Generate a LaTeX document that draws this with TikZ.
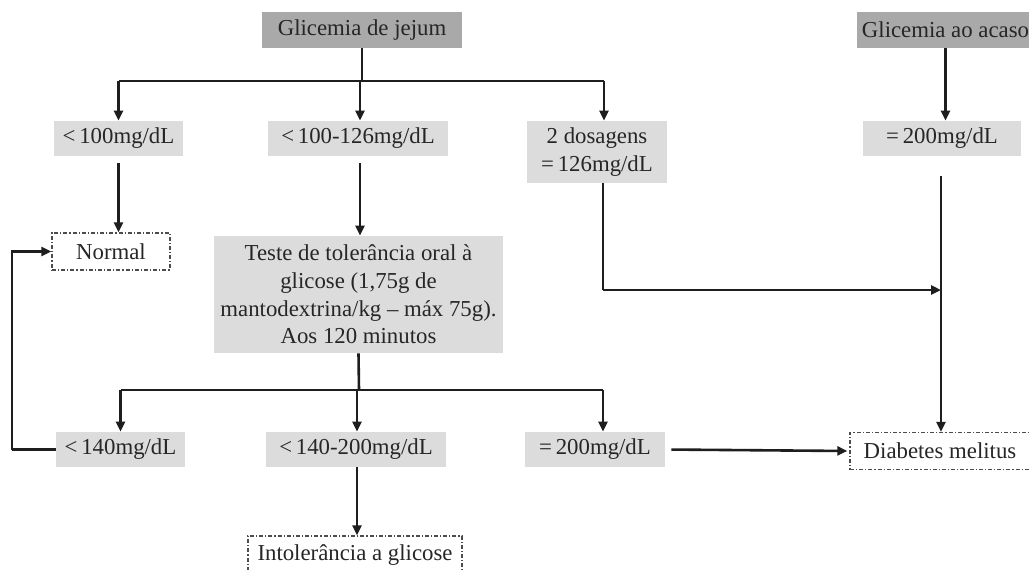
\documentclass[tikz,border=0pt]{standalone}
\usepackage{fontspec}
\setmainfont{Liberation Serif}
\usetikzlibrary{arrows.meta}
\definecolor{txt}{HTML}{262626}
\definecolor{darkfill}{HTML}{A9A9A9}
\definecolor{lightfill}{HTML}{DCDCDC}
\definecolor{linec}{HTML}{1E1E1E}
\tikzset{
  base/.style={font=\fontsize{11.4pt}{13.8pt}\selectfont, text=txt, inner sep=0pt, align=center},
  darkbox/.style={base, fill=darkfill, minimum height=18pt},
  lightbox/.style={base, fill=lightfill, minimum height=17.5pt},
  endbox/.style={base, draw=gray!60!black, line width=0.7pt,
    dash pattern=on 2pt off 1pt on 0.6pt off 1pt, minimum height=18.5pt},
  conn/.style={draw=linec, line width=1.3pt},
  arr/.style={conn, -{Triangle[width=4.5pt,length=5pt]}}
}
\begin{document}
\begin{tikzpicture}[x=0.5pt,y=-0.5pt]
\useasboundingbox[fill=white] (0,0) rectangle (1029,569);
% top boxes
\node[darkbox, minimum width=100pt] (gj) at (362,30) {Glicemia de jejum};
\node[darkbox, minimum width=89pt] (ga) at (945.5,30) {Glicemia ao acaso};
% first level
\node[lightbox, minimum width=64.5pt] (b1) at (118.5,138.5) {<\,100mg/dL};
\node[lightbox, minimum width=90pt] (b2) at (358,138.5) {<\,100-126mg/dL};
\node[lightbox, minimum width=70pt, minimum height=31pt] (b3) at (597,152) {2 dosagens\\=\,126mg/dL};
\node[lightbox, minimum width=79pt] (b4) at (942,138.5) {=\,200mg/dL};
% normal and test
\node[endbox, minimum width=59pt] (nor) at (111,251.5) {Normal};
\node[lightbox, minimum width=144.5pt, minimum height=58.5pt] (teste) at (358.5,294.5)
  {Teste de tolerância oral à\\glicose (1,75g de\\mantodextrina/kg – máx 75g).\\Aos 120 minutos};
% second level
\node[lightbox, minimum width=64.5pt] (c1) at (120.5,449.5) {<\,140mg/dL};
\node[lightbox, minimum width=90pt] (c2) at (356,449.5) {<\,140-200mg/dL};
\node[lightbox, minimum width=70pt] (c3) at (595,449.5) {=\,200mg/dL};
\node[endbox, minimum width=90pt] (dm) at (940,451) {Diabetes melitus};
\node[endbox, minimum width=107pt, minimum height=19pt] (intol) at (355,555) {Intolerância a glicose};
% junction coordinates
\coordinate (j1) at (362,81);
\coordinate (j1l) at (118.5,81);
\coordinate (j1m) at (360,81);
\coordinate (j1r) at (604,81);
\coordinate (j2) at (359,390);
\coordinate (j2l) at (120.5,390);
\coordinate (j2m) at (357,390);
\coordinate (j2r) at (603,390);
\coordinate (loopb) at (12,449.5);
\coordinate (loopt) at (12,251.5);
\coordinate (b3d) at (603,290);
\coordinate (dmj) at (941,290);
% connectors
\draw[conn] (gj.south) -- (j1);
\draw[conn] (j1l) -- (j1r);
\draw[arr] (j1l) -- (b1.north);
\draw[arr] (j1m) -- (j1m |- b2.north);
\draw[arr] (j1r) -- (j1r |- b3.north);
\draw[arr] (ga.south) -- (ga.south |- b4.north);
\draw[arr, shorten <=3.5pt] (b1.south) -- (b1.south |- nor.north);
\draw[arr, shorten <=3.5pt] (j1m |- b2.south) -- (j1m |- teste.north);
\draw[conn] (teste.south) -- (j2);
\draw[conn] (j2l) -- (j2r);
\draw[arr] (j2l) -- (c1.north);
\draw[arr] (j2m) -- (j2m |- c2.north);
\draw[arr] (j2r) -- (j2r |- c3.north);
\draw[conn] (c1.west) -- (loopb);
\draw[arr] (loopb) -- (loopt) -- (nor.west);
\draw[conn] (b3d |- b3.south) -- (b3d);
\draw[arr] (b3d) -- (dmj);
\draw[arr, shorten <=10pt] (dmj |- b4.south) -- (dmj |- dm.north);
\draw[arr, shorten <=3pt, shorten >=1pt] (c3.east) -- (dm.west);
\draw[arr] (j2m |- c2.south) -- (j2m |- intol.north);
\end{tikzpicture}
\end{document}
